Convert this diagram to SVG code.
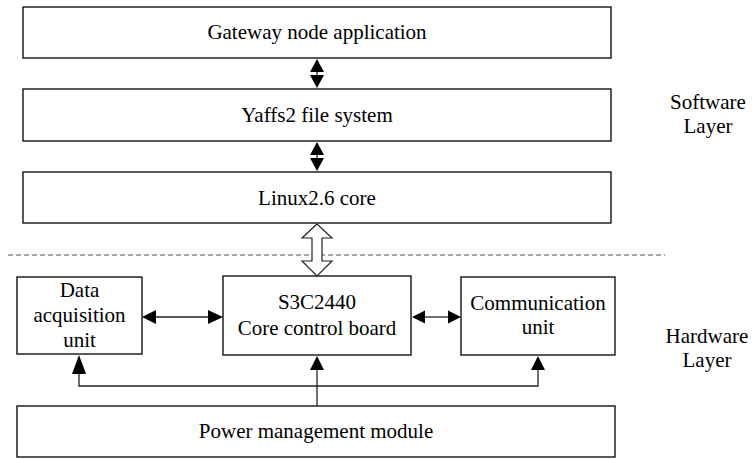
<svg xmlns="http://www.w3.org/2000/svg" width="753" height="459" viewBox="0 0 753 459">
<style>
.box{fill:#fff;stroke:#000;stroke-width:1.3}
.t{font-family:"Liberation Serif","Times New Roman",serif;font-size:21px;fill:#000;text-anchor:middle}
.ln{fill:none;stroke:#222;stroke-width:1.3}
.hd{fill:#000;stroke:none}
</style>
<rect width="753" height="459" fill="#fff"/>
<g id="gateway"><rect class="box" x="23" y="7" width="588" height="51"/><text class="t" x="317" y="39">Gateway node application</text></g>
<g id="yaffs2"><rect class="box" x="23" y="89" width="588" height="52"/><text class="t" x="317" y="122">Yaffs2 file system</text></g>
<g id="linux"><rect class="box" x="23" y="172" width="588" height="51"/><text class="t" x="317" y="205">Linux2.6 core</text></g>
<g id="data"><rect class="box" x="17" y="277" width="125" height="77"/><text class="t" x="79.5" y="297">Data</text><text class="t" x="79.5" y="322">acquisition</text><text class="t" x="79.5" y="347">unit</text></g>
<g id="core"><rect class="box" x="223" y="276" width="188" height="79"/><text class="t" x="317" y="309">S3C2440</text><text class="t" x="317" y="335">Core control board</text></g>
<g id="comm"><rect class="box" x="461" y="277" width="154" height="78"/><text class="t" x="538" y="310">Communication</text><text class="t" x="538" y="334">unit</text></g>
<g id="power"><rect class="box" x="17" y="406" width="598" height="51"/><text class="t" x="316" y="438">Power management module</text></g>
<g id="labels"><text class="t" x="708" y="109">Software</text><text class="t" x="708" y="133">Layer</text><text class="t" x="707" y="343">Hardware</text><text class="t" x="707" y="367">Layer</text></g>
<g id="connectors">
<line x1="8" y1="255" x2="665" y2="255" stroke="#555" stroke-width="1.2" stroke-dasharray="5,3"/>
<polygon points="317,224 302,238 312,238 312,261 302,261 317,276 332,261 322,261 322,238 332,238" fill="#fff" stroke="#222" stroke-width="1.2"/>
<line class="ln" x1="317" y1="70" x2="317" y2="77"/>
<polygon class="hd" points="317,59 310,72 324,72"/>
<polygon class="hd" points="317,88 310,75 324,75"/>
<line class="ln" x1="317" y1="153" x2="317" y2="160"/>
<polygon class="hd" points="317,142 310,155 324,155"/>
<polygon class="hd" points="317,171 310,158 324,158"/>
<line class="ln" x1="154" y1="317" x2="210" y2="317"/>
<polygon class="hd" points="142,317 156,310 156,324"/>
<polygon class="hd" points="223,317 208,310 208,324"/>
<line class="ln" x1="423" y1="317" x2="449" y2="317"/>
<polygon class="hd" points="412,317 425,310.5 425,323.5"/>
<polygon class="hd" points="461,317 448,310.5 448,323.5"/>
<polyline class="ln" points="79,372 79,386 538,386 538,368"/>
<line class="ln" x1="317" y1="406" x2="317" y2="368"/>
<polygon class="hd" points="79,355 72,374 86,374"/>
<polygon class="hd" points="538,356 531,370 545,370"/>
<polygon class="hd" points="317,356 310,370 324,370"/>
</g>
</svg>
